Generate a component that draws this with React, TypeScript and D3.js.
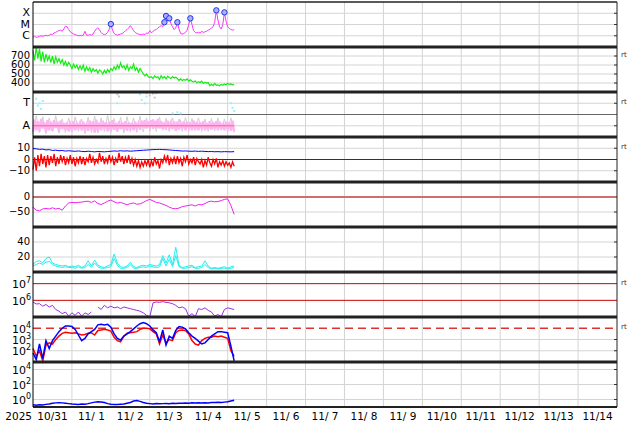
import React from "react";
import * as d3 from "d3";

const START = Date.UTC(2025, 9, 31);
const END = Date.UTC(2025, 10, 15);
const YEAR_LABEL = "2025";
const DAY_LABELS = ["10/31", "11/ 1", "11/ 2", "11/ 3", "11/ 4", "11/ 5", "11/ 6", "11/ 7", "11/ 8", "11/ 9", "11/10", "11/11", "11/12", "11/13", "11/14"];

// X-ray flux, log10 W/m2, hourly
const XRAY_LOG = [
  -6.15, -6.05, -6.15, -6.1, -6.05, -6.0, -6.05, -6.0, -5.95, -6.0,
  -5.95, -5.85, -5.9, -5.75, -5.7, -5.6, -5.55, -5.5, -5.6, -5.4,
  -5.15, -5.2, -5.45, -5.65, -5.75, -5.85, -5.9, -5.95, -6.0, -5.95,
  -6.0, -5.95, -5.6, -5.95, -5.95, -5.9, -5.95, -5.85, -5.6, -5.4,
  -5.3, -5.5, -5.7, -5.85, -5.9, -5.85, -5.7, -5.4, -4.96, -5.5,
  -5.8, -5.9, -5.95, -5.9, -5.85, -5.8, -5.7, -5.55, -5.45, -5.3,
  -5.1, -5.3, -5.55, -5.7, -5.8, -5.85, -5.9, -5.9, -5.85, -5.9,
  -5.75, -5.8, -5.55, -5.75, -5.6, -5.5, -5.45, -5.3, -5.2, -5.1,
  -5.2, -4.8, -4.24, -4.7, -4.45, -4.9, -5.2, -5.45, -5.3, -4.8,
  -5.4, -5.8, -5.85, -5.8, -5.7, -5.5, -5.0, -4.45, -5.0, -5.55,
  -5.7, -5.75, -5.7, -5.75, -5.6, -5.7, -5.65, -5.6, -5.5, -5.45,
  -5.3, -5.2, -4.8, -3.74, -4.6, -5.2, -5.4, -5.0, -3.92, -4.7,
  -5.2, -5.35, -5.45, -5.5, -5.45,
];
const XRAY_TICKS = [-6, -5, -4];
const XRAY_TICK_LABELS = ["C", "M", "X"];
const FLARE_HOURS = [48, 81, 82, 84, 89, 97, 113, 118];
const FLARE_LOG = [-4.96, -4.8, -4.24, -4.45, -4.8, -4.45, -3.74, -3.92];

// Solar wind speed km/s, hourly
const WIND = [
  760, 650, 800, 670, 780, 640, 750, 630, 720, 650,
  700, 630, 700, 610, 690, 630, 670, 620, 660, 600,
  640, 590, 630, 600, 560, 610, 570, 600, 550, 590,
  550, 600, 530, 580, 540, 570, 520, 560, 530, 550,
  510, 545, 530, 500, 540, 510, 550, 520, 560, 540,
  580, 550, 600, 560, 625, 570, 590, 550, 600, 540,
  580, 560, 610, 540, 570, 520, 560, 530, 500, 480,
  500, 470, 460, 470, 450, 480, 460, 470, 440, 480,
  455, 470, 445, 475, 460, 450, 470, 455, 465, 450,
  430, 445, 425, 440, 430, 445, 420, 435, 420, 410,
  425, 400, 415, 405, 420, 395, 410, 400, 405, 370,
  385, 370, 395, 375, 380, 370, 385, 375, 390, 380,
  395, 385, 390, 380, 385,
];
const WIND_TICKS = [400, 500, 600, 700];

// IMF direction panel (A = 1, T = 3), hourly
const IMF_PINK = [
  0.45, 1.55, 0.6, 1.4, 0.5, 1.6, 0.75, 1.3, 0.45, 1.5,
  0.6, 1.35, 0.55, 1.5, 0.8, 1.35, 0.5, 1.45, 0.7, 1.25,
  0.65, 1.3, 0.5, 1.15, 0.7, 1.4, 0.6, 1.2, 0.85, 1.25,
  0.6, 1.35, 0.75, 1.1, 0.55, 1.45, 0.65, 1.4, 0.4, 1.55,
  0.55, 1.3, 0.6, 1.45, 0.75, 1.3, 0.5, 1.35, 0.6, 1.5,
  0.65, 1.25, 0.5, 1.4, 0.7, 1.3, 0.65, 1.4, 0.55, 1.3,
  0.75, 1.25, 0.6, 1.35, 0.8, 1.2, 0.65, 1.45, 0.85, 1.5,
  0.75, 1.4, 0.9, 1.5, 0.7, 1.45, 0.8, 1.6, 0.75, 1.4,
  0.7, 1.3, 0.65, 1.45, 0.85, 1.3, 0.7, 1.4, 0.55, 1.35,
  0.65, 1.25, 0.75, 1.4, 0.6, 1.35, 0.8, 1.3, 0.6, 1.45,
  0.7, 1.35, 0.6, 1.3, 0.8, 1.4, 0.6, 1.25, 0.7, 1.4,
  0.65, 1.3, 0.75, 1.4, 0.6, 1.35, 0.7, 1.25, 0.6, 1.35,
  0.7, 1.3, 0.55, 1.45, 0.5,
];
// 2-hourly
const IMF_GRAY = [
  0.3, 1.9, 0.4, 1.8, 0.3, 1.7, 0.5, 1.9, 0.35, 1.6,
  0.4, 1.7, 0.45, 1.8, 0.5, 1.6, 0.3, 1.75, 0.4, 1.85,
  0.35, 1.7, 0.5, 1.9, 0.4, 1.65, 0.45, 1.75, 0.35, 1.8,
  0.5, 1.7, 0.4, 1.85, 0.45, 1.7, 0.55, 1.6, 0.5, 1.75,
  0.6, 1.65, 0.5, 1.7, 0.55, 1.6, 0.5, 1.75, 0.6, 1.65,
  0.55, 1.7, 0.6, 1.6, 0.5, 1.65, 0.55, 1.7, 0.6, 1.6,
  0.5, 1.7, 0.4,
];
const IMF_CYAN_H = [2, 3, 4, 5, 6, 52, 66, 67, 69, 70, 86, 89, 91, 122, 123, 124];
const IMF_CYAN_V = [3.4, 2.8, 3.0, 2.5, 3.2, 3.0, 3.8, 3.3, 3.0, 3.6, 2.1, 2.2, 2.1, 3.0, 2.6, 2.3];
const IMF_GRAYPT_H = [52, 53, 70, 72, 74, 75, 76];
const IMF_GRAYPT_V = [3.8, 3.6, 3.9, 3.7, 3.85, 3.5, 3.9];
const IMF_TICKS = [1, 3];
const IMF_TICK_LABELS = ["A", "T"];

// Bt (2-hourly) and Bz (hourly), nT
const BT = [
  9.8, 9.5, 9, 9.2, 8.5, 8.8, 8, 8.3, 7.8, 8, 7.5, 7.8,
  7.5, 7.3, 7.6, 7.2, 7.0, 7.4, 7.1, 6.8, 7.2, 7.0, 6.8, 7.1,
  7.3, 7.6, 7.4, 7.8, 7.5, 7.7, 7.4, 7.6, 7.8, 8.0, 8.2, 8.4,
  8.6, 8.8, 8.9, 9.0, 8.8, 8.7, 8.5, 8.2, 8.0, 7.8, 7.5, 7.6,
  7.4, 7.3, 7.5, 7.2, 7.4, 7.2, 7.0, 7.1, 6.9, 7.0, 6.8, 7.0,
  6.9, 6.8, 7.0,
];
const BZ = [
  -9, 2, -10, 4, -6, 5, -4, 3, -7, 4,
  -5, 3, -3, 5, -6, 2, -4, 4, -2, 3,
  -5, 1, -3, 4, -4, 2, -6, 1, -3, 3,
  -4, 2, -5, 1, -2, 5, -3, 2, -4, 0,
  -3, 6, -2, 3, -4, 1, -3, 4, -2, 2,
  -5, 1, -3, 6, -2, 3, -4, 2, -3, 4,
  -4, 1, -5, 0, -6, -1, -7, -2, -6, -1,
  -5, 0, -7, -1, -6, 2, -4, -1, -8, 0,
  -3, 3, -2, 4, -5, 1, -3, 2, -4, 3,
  -3, 1, -6, 2, -2, 4, -4, 0, -3, 2,
  -5, 1, -2, -4, 0, -7, -1, -5, 2, -3,
  -6, 0, -4, 1, -7, -2, -5, -1, -6, -2,
  -5, -3, -7, -2, -6,
];
const B_TICKS = [10, 0, -10];
const B_TICK_LABELS = ["10", "0", "\u221210"];

// Dst nT, 2-hourly
const DST = [
  -34, -44, -46, -40, -38, -40, -36, -40, -38, -44,
  -30, -20, -18, -19, -18, -17, -15, -14, -18, -13,
  -22, -25, -20, -14, -10, -16, -20, -18, -22, -26,
  -22, -20, -24, -23, -18, -12, -8, -13, -18, -20,
  -24, -28, -34, -38, -39, -37, -32, -30, -28, -26,
  -30, -25, -26, -22, -16, -14, -16, -15, -12, -8,
  -6, -28, -58,
];
const DST_TICKS = [0, -50];
const DST_TICK_LABELS = ["0", "\u221250"];

// Density, 2-hourly
const DENS_A = [
  10, 14, 15, 12, 18, 20, 12, 10, 9, 8,
  9, 7, 8, 7, 9, 6, 8, 15, 8, 16,
  9, 7, 6, 8, 10, 24, 12, 7, 6, 8,
  13, 7, 6, 8, 9, 8, 10, 9, 8, 10,
  22, 12, 23, 10, 33, 9, 6, 7, 8, 9,
  6, 7, 8, 15, 8, 5, 6, 5, 6, 7,
  5, 7, 8,
];
const DENS_B = [
  8, 10, 12, 10, 13, 14, 10, 8, 7, 6,
  7, 6, 6, 5, 7, 5, 6, 10, 6, 12,
  7, 5, 5, 6, 7, 18, 9, 5, 5, 6,
  10, 5, 5, 6, 7, 6, 8, 7, 6, 7,
  18, 8, 17, 7, 22, 7, 5, 5, 6, 7,
  5, 5, 6, 10, 6, 4, 5, 4, 5, 5,
  4, 5, 6,
];
const DENS_TICKS = [40, 20];

// Panel 7, log10, 2-hourly
const P7_LOG: (number | null)[] = [
  5.9, 5.78, 5.8, 5.65, 5.75, 5.6, 5.7, 5.45, 5.35, 5.2,
  5.3, 5.05, 5.25, 5.1, 5.3, 5.05, 5.25, 5.15, 5.3, null,
  5.6, 5.45, 5.7, 5.55, 5.65, 5.55, 5.6, 5.5, 5.6, 5.55,
  5.5, 5.45, 5.4, 5.35, 5.25, 5.1, 5.02, 5.85, 5.9, 5.88,
  5.92, 5.88, 5.85, 5.8, 5.7, 5.55, 5.6, 5.5, 5.05, 5.2,
  5.02, 5.5, 5.45, 5.55, 5.4, 5.3, 5.05, 5.15, 5.02, 5.45,
  5.55, 5.5, 5.45,
];
const P7_EXP = [7, 6];

// Panel 8, log10, 2-hourly
const P8_BLUE_LOG = [
  1.8, 1.2, 2.6, 1.3, 2.9, 2.2, 2.9, 3.3, 3.7, 4.0,
  4.2, 4.2, 4.15, 3.9, 3.4, 2.9, 3.1, 3.5, 3.7, 3.9,
  4.3, 4.35, 4.3, 4.35, 4.1, 3.5, 3.1, 2.95, 3.3, 3.5,
  3.7, 3.95, 4.2, 4.4, 4.5, 4.4, 4.2, 3.85, 3.6, 2.8,
  3.85, 2.5, 3.3, 3.1, 3.8, 4.15, 4.1, 3.95, 3.6, 3.3,
  3.1, 2.85, 2.6, 2.7, 3.0, 3.3, 3.5, 3.7, 3.7, 3.65,
  3.6, 2.4, 1.1,
];
const P8_RED_LOG = [
  2.2, 1.5, 2.0, 1.1, 2.5, 2.7, 2.6, 3.0, 3.3, 3.55,
  3.65, 3.6, 3.55, 3.6, 3.5, 3.4, 3.45, 3.55, 3.6, 3.4,
  3.8, 3.85, 3.9, 3.85, 3.75, 3.2, 2.9, 2.8, 3.3, 3.55,
  3.6, 3.65, 3.7, 3.9, 4.0, 4.0, 3.95, 3.7, 3.5, 2.6,
  3.4, 2.7, 3.0, 2.9, 3.6, 3.8, 3.85, 3.8, 3.5, 2.9,
  2.6, 2.5, 2.9, 3.1, 3.2, 3.2, 3.3, 3.25, 3.3, 3.2,
  3.1, 2.0, 1.5,
];
const P8_EXP = [4, 3, 2];

// Panel 9, log10, 2-hourly
const P9_BLUE_LOG = [
  -0.7, -0.75, -0.7, -0.72, -0.65, -0.6,
  -0.5, -0.45, -0.42, -0.45, -0.5, -0.55, -0.6,
  -0.62, -0.65, -0.6, -0.62, -0.55, -0.45,
  -0.35, -0.3, -0.32, -0.4, -0.55,
  -0.62, -0.65, -0.65, -0.62, -0.6, -0.5, -0.4,
  -0.2, -0.15, -0.25, -0.4, -0.5,
  -0.55, -0.6, -0.55, -0.58, -0.55, -0.52, -0.55, -0.5, -0.52, -0.5,
  -0.5, -0.48, -0.5, -0.45, -0.48, -0.45, -0.48, -0.42, -0.45, -0.4,
  -0.4, -0.38, -0.4, -0.35, -0.3, -0.2, -0.1,
];
const P9_EXP = [4, 2, 0];

const RT_LABEL = "rt";

const X0 = 33;
const X1 = 617;
const TOP = 2;
const PH = 45;
const FONT = "DejaVu Sans, sans-serif";

const tAt = (h: number) => new Date(START + h * 3600e3);

function Sup({ x, y, exp }: { x: number; y: number; exp: number }) {
  return (
    <text x={x} y={y} textAnchor="end" fontSize={11} fontFamily={FONT} dominantBaseline="middle">
      10<tspan dy={-5} fontSize={8}>{exp}</tspan>
    </text>
  );
}

export default function App() {
  const x = d3.scaleUtc().domain([new Date(START), new Date(END)]).range([X0, X1]);
  const py = (i: number) => TOP + i * PH;

  const yX = d3.scaleLinear().domain([-7, -3]).range([py(1), py(0)]);
  const yW = d3.scaleLinear().domain([300, 800]).range([py(2), py(1)]);
  const yI = d3.scaleLinear().domain([0, 4]).range([py(3), py(2)]);
  const yB = d3.scaleLinear().domain([-20, 20]).range([py(4), py(3)]);
  const yD = d3.scaleLinear().domain([-100, 50]).range([py(5), py(4)]);
  const yN = d3.scaleLinear().domain([0, 60]).range([py(6), py(5)]);
  const y7 = d3.scaleLog().domain([1e5, Math.pow(10, 7.7)]).range([py(7), py(6)]);
  const y8 = d3.scaleLog().domain([10, 1e5]).range([py(8), py(7)]);
  const y9 = d3.scaleLog().domain([0.1, 1e5]).range([py(9), py(8)]);

  const mk = (arr: (number | null)[], step: number, ys: (v: number) => number, isLog = false) =>
    d3
      .line<number | null>()
      .defined((d) => d !== null)
      .x((_, i) => x(tAt(i * step)))
      .y((d) => ys(isLog ? Math.pow(10, d as number) : (d as number)))(arr) || "";

  const days = d3.range(0, 16).map((d) => new Date(START + d * 86400e3));
  const gridColor = "#d4d4d4";

  const hGrid = (ys: number[], key: string) =>
    ys.map((yy, i) => <line key={key + i} x1={X0} x2={X1} y1={yy} y2={yy} stroke={gridColor} strokeWidth={1} />);

  const rightTicks = (ys: number[], key: string) =>
    ys.map((yy, i) => <line key={key + i} x1={X1 - 3} x2={X1} y1={yy} y2={yy} stroke="#333" strokeWidth={1} />);

  const label = (yy: number, txt: string, key: string, fs = 10) => (
    <text key={key} x={30} y={yy} textAnchor="end" dominantBaseline="middle" fontSize={fs} fontFamily={FONT}>
      {txt}
    </text>
  );

  const allGridY = [
    ...XRAY_TICKS.map((v) => yX(v)),
    ...WIND_TICKS.map((v) => yW(v)),
    ...IMF_TICKS.map((v) => yI(v)),
    yB(10), yB(-10),
    yD(-50),
    ...DENS_TICKS.map((v) => yN(v)),
    ...P8_EXP.slice(1).map((e) => y8(Math.pow(10, e))),
    ...P9_EXP.map((e) => y9(Math.pow(10, e))),
  ];

  return (
    <svg
      width={634}
      height={424}
      style={{ position: "absolute", left: 0, top: 0, background: "#fff" }}
      fontFamily={FONT}
    >
      <rect x={0} y={0} width={634} height={424} fill="#fff" />
      {/* vertical grid */}
      {days.slice(1, 15).map((d, i) => (
        <line key={"vg" + i} x1={x(d)} x2={x(d)} y1={TOP} y2={py(9)} stroke={gridColor} strokeWidth={1} />
      ))}
      {/* horizontal grids */}
      {hGrid(allGridY, "hg")}
      {rightTicks(allGridY, "rtk")}

      {/* Panel 1: X-ray */}
      <path d={mk(XRAY_LOG, 1, yX)} fill="none" stroke="#ff33ff" strokeWidth={1} />
      {FLARE_HOURS.map((h, i) => (
        <circle key={"fl" + i} cx={x(tAt(h))} cy={yX(FLARE_LOG[i])} r={2.7} fill="#aab0ff" stroke="#2233ee" strokeWidth={1} />
      ))}
      {XRAY_TICKS.map((v, i) => label(yX(v), XRAY_TICK_LABELS[i], "xl" + i, 11))}

      {/* Panel 2: wind */}
      <path d={mk(WIND, 1, yW)} fill="none" stroke="#11ee11" strokeWidth={1.2} />
      {WIND_TICKS.map((v, i) => label(yW(v), String(v), "wl" + i))}

      {/* Panel 3: IMF direction */}
      <line x1={X0} x2={X1} y1={yI(2)} y2={yI(2)} stroke="#666" strokeWidth={1} />
      <path d={mk(IMF_GRAY, 2, yI)} fill="none" stroke="#cfcfcf" strokeWidth={1} />
      {IMF_GRAYPT_H.map((h, i) => (
        <rect key={"gp" + i} x={x(tAt(h)) - 1} y={yI(IMF_GRAYPT_V[i]) - 1} width={2} height={2} fill="#c8c8c8" />
      ))}
      <path d={mk(IMF_PINK, 1, yI)} fill="none" stroke="#ffb3f3" strokeWidth={2.4} />
      <line x1={x(tAt(0))} x2={x(tAt(124))} y1={yI(1)} y2={yI(1)} stroke="#ff6666" strokeWidth={1} />
      {IMF_CYAN_H.map((h, i) => (
        <rect key={"cp" + i} x={x(tAt(h)) - 1} y={yI(IMF_CYAN_V[i]) - 1} width={2} height={2} fill="#99eeff" />
      ))}
      {IMF_TICKS.map((v, i) => label(yI(v), IMF_TICK_LABELS[i], "il" + i, 11))}

      {/* Panel 4: B */}
      <line x1={X0} x2={X1} y1={yB(0)} y2={yB(0)} stroke="#aa0000" strokeWidth={1} />
      <path d={mk(BZ, 1, yB)} fill="none" stroke="#ff0000" strokeWidth={1.3} />
      <path d={mk(BT, 2, yB)} fill="none" stroke="#0000ff" strokeWidth={1} />
      {B_TICKS.map((v, i) => label(yB(v), B_TICK_LABELS[i], "bl" + i))}

      {/* Panel 5: Dst */}
      <line x1={X0} x2={X1} y1={yD(0)} y2={yD(0)} stroke="#cc6f6f" strokeWidth={2} />
      <path d={mk(DST, 2, yD)} fill="none" stroke="#ee22ee" strokeWidth={1} />
      {DST_TICKS.map((v, i) => label(yD(v), DST_TICK_LABELS[i], "dl" + i))}

      {/* Panel 6: density */}
      <path d={mk(DENS_B, 2, yN)} fill="none" stroke="#22eeee" strokeWidth={1} />
      <path d={mk(DENS_A, 2, yN)} fill="none" stroke="#22eeee" strokeWidth={1} />
      {DENS_TICKS.map((v, i) => label(yN(v), String(v), "nl" + i))}

      {/* Panel 7 */}
      {P7_EXP.map((e, i) => (
        <line key={"p7r" + i} x1={X0} x2={X1} y1={y7(Math.pow(10, e))} y2={y7(Math.pow(10, e))} stroke="#cc0000" strokeWidth={1} />
      ))}
      <path d={mk(P7_LOG, 2, y7, true)} fill="none" stroke="#9933dd" strokeWidth={1} />
      {P7_EXP.map((e, i) => (
        <Sup key={"p7l" + i} x={31} y={y7(Math.pow(10, e)) + 1.5} exp={e} />
      ))}

      {/* Panel 8 */}
      <line x1={X0} x2={X1} y1={y8(1e4)} y2={y8(1e4)} stroke="#dd3333" strokeWidth={1.5} strokeDasharray="8,5" />
      <path d={mk(P8_RED_LOG, 2, y8, true)} fill="none" stroke="#ff0000" strokeWidth={1.5} />
      <path d={mk(P8_BLUE_LOG, 2, y8, true)} fill="none" stroke="#0000ff" strokeWidth={1.5} />
      {P8_EXP.map((e, i) => (
        <Sup key={"p8l" + i} x={31} y={y8(Math.pow(10, e)) + 1.5} exp={e} />
      ))}

      {/* Panel 9 */}
      <path d={mk(P9_BLUE_LOG, 2, y9, true)} fill="none" stroke="#0000ff" strokeWidth={1.5} />
      {P9_EXP.map((e, i) => (
        <Sup key={"p9l" + i} x={31} y={y9(Math.pow(10, e)) + 1.5} exp={e} />
      ))}

      {/* frame */}
      <line x1={X0} x2={X1} y1={TOP} y2={TOP} stroke="#222" strokeWidth={1.5} />
      {d3.range(1, 9).map((i) => (
        <line key={"sep" + i} x1={X0} x2={X1} y1={py(i)} y2={py(i)} stroke="#222" strokeWidth={3} />
      ))}
      <line x1={X0} x2={X1} y1={py(9)} y2={py(9)} stroke="#222" strokeWidth={2} />
      <line x1={X0} x2={X0} y1={TOP} y2={py(9)} stroke="#000" strokeWidth={1} />
      <line x1={X1} x2={X1} y1={TOP} y2={py(9)} stroke="#222" strokeWidth={1} />

      {/* rt labels */}
      {[yW(700), yI(3), yB(10), y7(1e7), y8(1e4)].map((yy, i) => (
        <text key={"rt" + i} x={621} y={yy - 1} fontSize={7} fontFamily={FONT} fill="#333" dominantBaseline="middle">
          {RT_LABEL}
        </text>
      ))}

      {/* x axis labels */}
      <text x={32} y={420} textAnchor="end" fontSize={10.5} fontFamily={FONT}>
        {YEAR_LABEL}
      </text>
      {DAY_LABELS.map((lab, i) => (
        <text key={"dl" + i} x={x(new Date(START + (i + 0.5) * 86400e3))} y={420} textAnchor="middle" fontSize={10.5} fontFamily={FONT} style={{ whiteSpace: "pre" }}>
          {lab}
        </text>
      ))}
    </svg>
  );
}
